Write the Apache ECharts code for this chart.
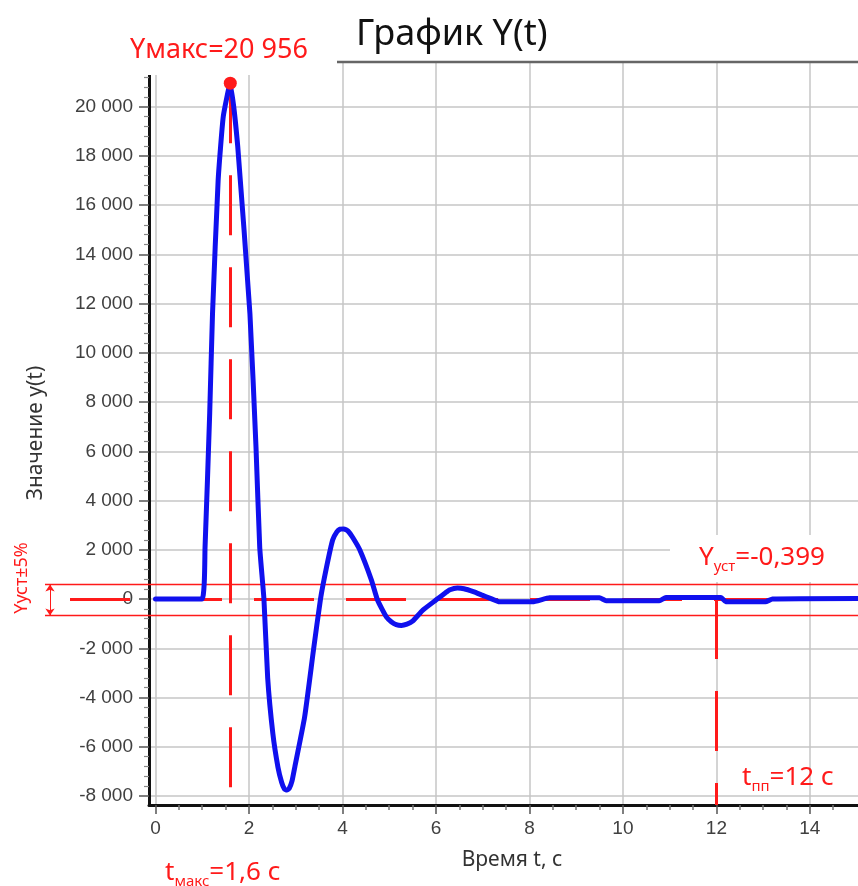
<!DOCTYPE html>
<html>
<head>
<meta charset="utf-8">
<script src="https://cdn.jsdelivr.net/npm/echarts@6/dist/echarts.min.js"></script>
<style>
  html, body { margin: 0; padding: 0; background: #fff; }
  #chart { width: 858px; height: 886px; }
</style>
</head>
<body>
<div id="chart"></div>
<script>
// время t, с
const tData = [0, 0.99, 1.06, 1.16, 1.22, 1.34, 1.45, 1.6, 1.76, 2.02, 2.15, 2.23, 2.32, 2.4,
  2.51, 2.62, 2.7, 2.76, 2.81, 2.86, 2.92, 2.98, 3.19, 3.38, 3.53, 3.66, 3.79, 3.88, 3.95,
  4.03, 4.12, 4.22, 4.37, 4.62, 4.75, 4.94, 5.05, 5.15, 5.26, 5.38, 5.5, 5.72, 6.0, 6.2,
  6.3, 6.46, 6.6, 6.8, 7.0, 7.15, 7.36, 8.07, 8.43, 9.5, 9.64, 10.78, 10.92, 12.1, 12.2,
  13.05, 13.2, 15.03];
// значение y(t)
const yData = [0, 0, 2100, 7560, 11600, 17000, 19600, 20956, 18370, 11600, 6180, 2100, 0, -3200,
  -5450, -6830, -7450, -7720, -7760, -7700, -7400, -6830, -4800, -2070, 0, 1300, 2400, 2730, 2840,
  2850, 2760, 2500, 2000, 770, -40, -730, -930, -1040, -1070, -1020, -900, -450, -40, 250,
  380, 450, 420, 300, 150, 40, -110, -110, 50, 50, -70, -70, 60, 60, -110,
  -110, 0, 20];

const xTicks = [0, 2, 4, 6, 8, 10, 12, 14];
const yTicks = [-8000, -6000, -4000, -2000, 0, 2000, 4000, 6000, 8000, 10000, 12000, 14000, 16000, 18000, 20000];

const tMax = 1.6;       // t макс
const yMax = 20956;     // Y макс
const ySettled = -0.399; // Y уст
const tSettle = 12;     // t пп
const bandHi = 590;     // границы ±5%
const bandLo = -670;

const xMin = -0.139, xMax = 15.03;
const yMin = -8366, yMaxAxis = 21816;

// мелкие деления
const xMinor = [];
for (let v = 0.5; v < 15; v += 0.5) if (v % 2 !== 0) xMinor.push(v);
const yMinor = [];
for (let v = -8000; v < 21800; v += 400) if (v % 2000 !== 0) yMinor.push(v);

const RED = '#ff1a1a';
const fmt = (v) => {
  const s = String(Math.abs(v)).replace(/\B(?=(\d{3})+(?!\d))/g, ' ');
  return (v < 0 ? '-' : '') + s;
};

const chart = echarts.init(document.getElementById('chart'), null, { renderer: 'canvas' });

const tickFont = { fontFamily: 'Liberation Sans', fontSize: 19, color: '#404040' };
const richRed = {
  a: { fill: RED, fontFamily: 'Noto Sans', fontSize: 26, lineHeight: 32 },
  b: { fill: RED, fontFamily: 'Noto Sans', fontSize: 15, lineHeight: 15, verticalAlign: 'bottom' }
};

const option = {
  animation: false,
  backgroundColor: '#fff',
  title: {
    text: 'График Y(t)',
    left: 351,
    top: 12,
    textStyle: { fontFamily: 'Noto Sans', fontSize: 36, fontWeight: 'normal', color: '#111' }
  },
  grid: { left: 149, right: 0, top: 62, bottom: 81, containLabel: false },
  xAxis: [
    {
      type: 'value', min: xMin, max: xMax, position: 'bottom',
      axisLine: { onZero: false, lineStyle: { color: '#111', width: 3 } },
      axisTick: { customValues: xTicks, length: 9, lineStyle: { color: '#555', width: 1.5 } },
      axisLabel: Object.assign({ customValues: xTicks, margin: 14 }, tickFont),
      splitLine: { show: true, lineStyle: { color: '#c6c6c6', width: 1.5 } }
    },
    {
      type: 'value', min: xMin, max: xMax, position: 'bottom',
      axisLine: { show: false, onZero: false },
      axisTick: { customValues: xMinor, length: 5, lineStyle: { color: '#777', width: 1.5 } },
      axisLabel: { show: false },
      splitLine: { show: false }
    }
  ],
  yAxis: [
    {
      type: 'value', min: yMin, max: yMaxAxis, position: 'left',
      axisLine: { show: true, onZero: false, lineStyle: { color: '#111', width: 3 } },
      axisTick: { show: true, customValues: yTicks, length: 10, lineStyle: { color: '#555', width: 1.5 } },
      axisLabel: Object.assign({ customValues: yTicks, margin: 16, formatter: fmt }, tickFont),
      splitLine: { show: true, lineStyle: { color: '#c6c6c6', width: 1.5 } }
    },
    {
      type: 'value', min: yMin, max: yMaxAxis, position: 'left',
      axisLine: { show: false, onZero: false },
      axisTick: { show: true, customValues: yMinor, length: 5, lineStyle: { color: '#888', width: 1.2 } },
      axisLabel: { show: false },
      splitLine: { show: false }
    }
  ],
  series: [
    {
      type: 'line',
      xAxisIndex: 0, yAxisIndex: 0,
      data: tData.map((t, i) => [t, yData[i]]),
      showSymbol: false,
      smooth: 0.15,
      clip: false,
      z: 3,
      lineStyle: { color: '#1010ee', width: 5, join: 'round', cap: 'round' },
      markLine: {
        silent: true,
        z: 1,
        symbol: 'none',
        label: { show: false },
        lineStyle: { color: RED, width: 3, type: [60, 32] },
        data: [
          [{ coord: [tMax, yMax] }, { coord: [tMax, -8000] }],
          [{ x: 70, yAxis: ySettled }, { x: 858, yAxis: ySettled }],
          [{ coord: [tSettle, ySettled] }, { coord: [tSettle, yMin] }],
          [{ x: 45, yAxis: bandHi, lineStyle: { type: 'solid', width: 1.3 } },
           { x: 858, yAxis: bandHi }],
          [{ x: 45, yAxis: bandLo, lineStyle: { type: 'solid', width: 1.3 } },
           { x: 858, yAxis: bandLo }],
          [{ x: 50, yAxis: bandHi, symbol: 'arrow', symbolSize: [7, 7], lineStyle: { type: 'solid', width: 1 } },
           { x: 50, yAxis: bandLo, symbol: 'arrow', symbolSize: [7, 7] }]
        ]
      },
      markPoint: {
        silent: true,
        symbol: 'circle',
        symbolSize: 13,
        itemStyle: { color: RED },
        label: { show: false },
        data: [{ coord: [tMax, yMax] }]
      }
    }
  ],
  graphic: [
    { type: 'rect', z: 1, shape: { x: 0, y: 0, width: 337, height: 75 }, style: { fill: '#fff' } },
    { type: 'rect', z: 1, shape: { x: 670, y: 535, width: 188, height: 47 }, style: { fill: '#fff' } },
    { type: 'line', z: 4, shape: { x1: 337, y1: 62, x2: 858, y2: 62 }, style: { stroke: '#666', lineWidth: 2.5 } },
    {
      type: 'text', z: 10, x: 130, y: 50,
      style: { text: 'Yмакс=20 956', fill: RED, fontFamily: 'Noto Sans', fontSize: 27, verticalAlign: 'middle' }
    },
    {
      type: 'text', z: 10, x: 699, y: 558,
      style: { text: '{a|Y}{b|уст}{a|=-0,399}', verticalAlign: 'middle', rich: richRed }
    },
    {
      type: 'text', z: 10, x: 742, y: 778,
      style: { text: '{a|t}{b|пп}{a|=12 с}', verticalAlign: 'middle', rich: richRed }
    },
    {
      type: 'text', z: 10, x: 165, y: 873,
      style: { text: '{a|t}{b|макс}{a|=1,6 с}', verticalAlign: 'middle', rich: richRed }
    },
    {
      type: 'text', z: 10, x: 22, y: 578, rotation: Math.PI / 2,
      style: { text: 'Yуст±5%', fill: RED, fontFamily: 'Noto Sans', fontSize: 18, align: 'center', verticalAlign: 'middle' }
    },
    {
      type: 'text', z: 10, x: 36, y: 433, rotation: Math.PI / 2,
      style: { text: 'Значение y(t)', fill: '#333', fontFamily: 'Noto Sans', fontSize: 21, align: 'center', verticalAlign: 'middle' }
    },
    {
      type: 'text', z: 10, x: 512, y: 860,
      style: { text: 'Время t, с', fill: '#333', fontFamily: 'Noto Sans', fontSize: 21, align: 'center', verticalAlign: 'middle' }
    }
  ]
};

chart.setOption(option);
</script>
</body>
</html>
